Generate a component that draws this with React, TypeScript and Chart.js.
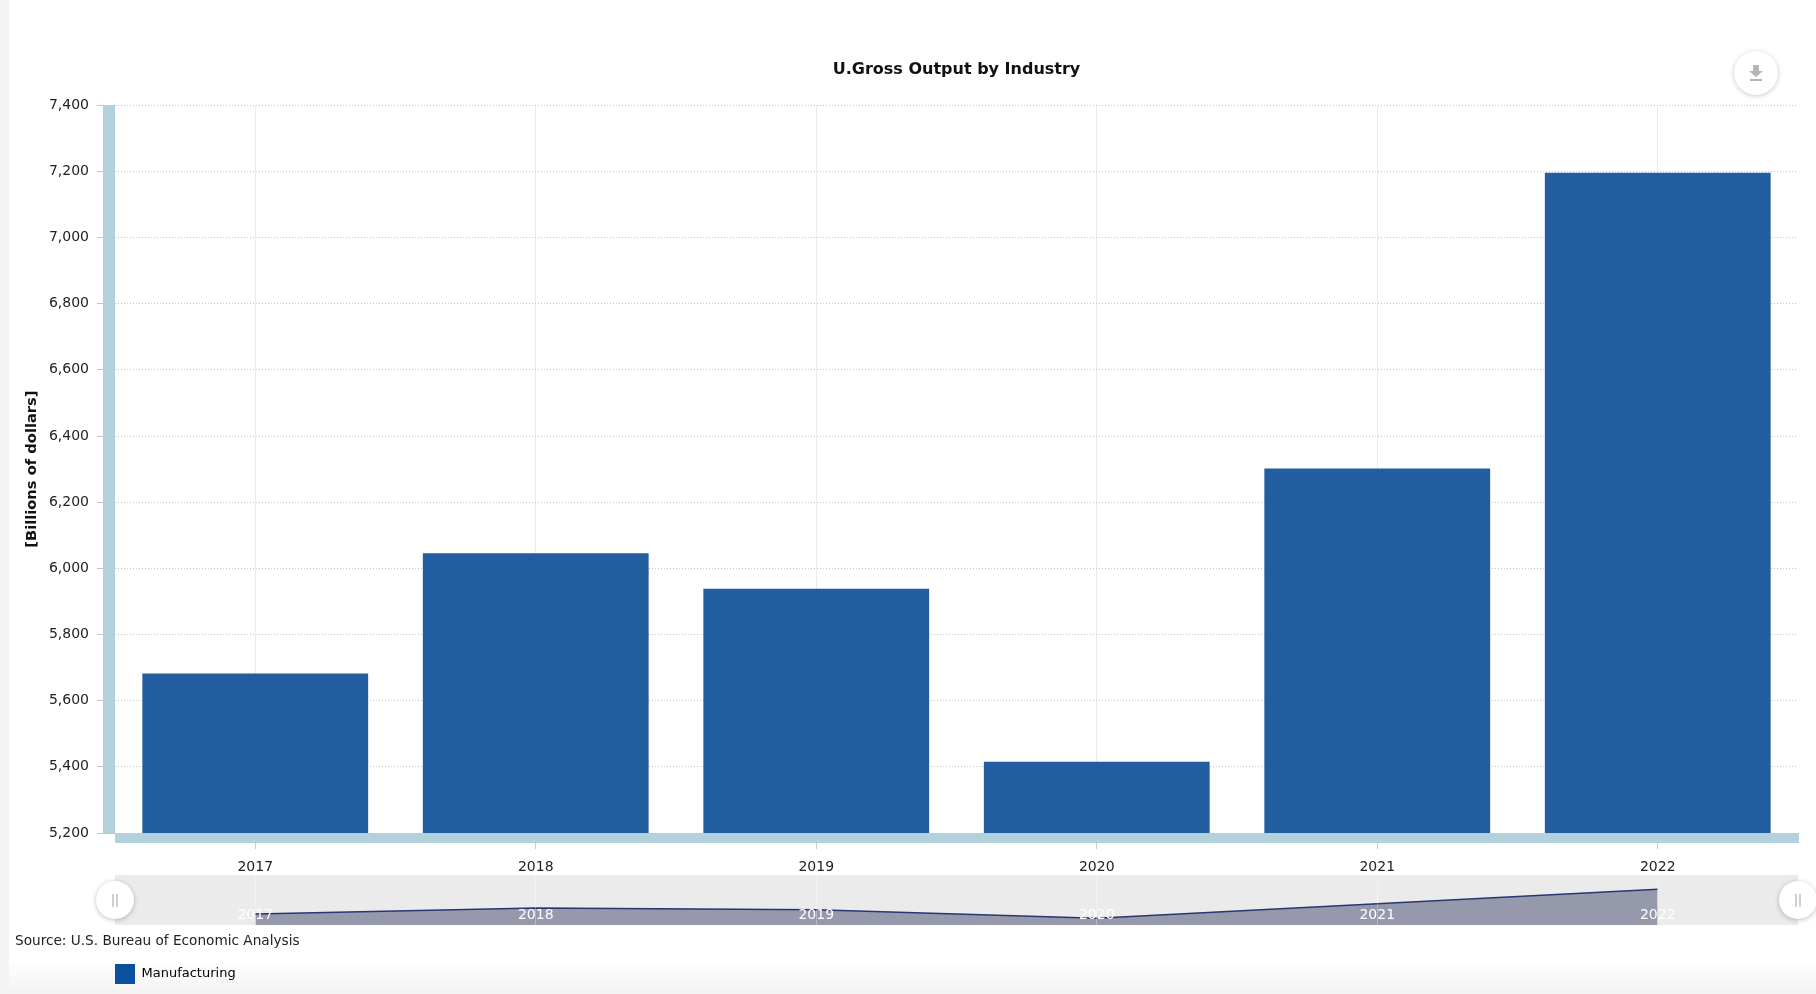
import React, { useEffect, useRef } from "react";
import { Chart, registerables } from "chart.js";

Chart.register(...registerables);

const years = ["2017", "2018", "2019", "2020", "2021", "2022"];
const manufacturing = [5682, 6046, 5938, 5415, 6302, 7196];
const yMin = 5200;
const yMax = 7400;
const yStep = 200;

const FONT = '"DejaVu Sans", Verdana, sans-serif';

const wallPlugin = {
  id: "walls",
  beforeDatasetsDraw(chart: any) {
    const { ctx, chartArea } = chart;
    ctx.save();
    ctx.fillStyle = "#b3d1dd";
    ctx.fillRect(chartArea.left - 12, chartArea.top, 12, chartArea.bottom - chartArea.top);
    ctx.fillRect(chartArea.left, chartArea.bottom, chartArea.right - chartArea.left + 1, 10);
    ctx.restore();
  },
};

function Handle({ x }: { x: number }) {
  return (
    <div
      style={{
        position: "absolute",
        left: x - 19,
        top: 881,
        width: 38,
        height: 38,
        borderRadius: "50%",
        background: "#fff",
        boxShadow: "0 1px 5px rgba(0,0,0,0.25)",
        display: "flex",
        alignItems: "center",
        justifyContent: "center",
        gap: 2,
      }}
    >
      <span style={{ width: 2, height: 13, background: "#d0d0d0" }} />
      <span style={{ width: 2, height: 13, background: "#d0d0d0" }} />
    </div>
  );
}

export default function App() {
  const mainRef = useRef<HTMLCanvasElement>(null);
  const navRef = useRef<HTMLCanvasElement>(null);

  useEffect(() => {
    document.body.style.margin = "0";
    const main = new Chart(mainRef.current!, {
      type: "bar",
      data: {
        labels: years,
        datasets: [
          {
            label: "Manufacturing",
            data: manufacturing,
            backgroundColor: "#225e9f",
            barPercentage: 0.805,
            categoryPercentage: 1,
          },
        ],
      },
      plugins: [wallPlugin],
      options: {
        responsive: false,
        animation: false,
        layout: { padding: { left: 20, right: 18, top: 0, bottom: 0 } },
        plugins: {
          tooltip: { enabled: false },
          title: {
            display: true,
            text: "U.Gross Output by Industry",
            color: "#111",
            fullSize: false,
            font: { family: FONT, size: 16, weight: "bold" },
            padding: { top: 60, bottom: 26 },
          },
          legend: {
            display: true,
            position: "bottom",
            align: "start",
            fullSize: false,
            labels: {
              boxWidth: 20,
              boxHeight: 20,
              padding: 0,
              color: "#222",
              font: { family: FONT, size: 13 },
              generateLabels: () => [
                { text: "Manufacturing", fillStyle: "#0d4f9f", strokeStyle: "#0d4f9f", lineWidth: 0, datasetIndex: 0 },
              ],
            },
          },
        },
        scales: {
          x: {
            offset: true,
            afterFit: (s: any) => {
              s.height = 131;
            },
            border: { display: false },
            grid: {
              offset: false,
              color: "#ececec",
              tickColor: "#cccccc",
              tickLength: 16,
            },
            ticks: {
              color: "#222",
              padding: 10,
              maxRotation: 0,
              font: { family: FONT, size: 14 },
            },
          },
          y: {
            min: yMin,
            max: yMax,
            afterFit: (s: any) => {
              s.width = 95;
            },
            border: { display: false, dash: [1, 2] },
            grid: {
              color: "#c4c4c4",
              tickColor: "#c4c4c4",
              tickLength: 18,
            },
            ticks: {
              stepSize: yStep,
              color: "#222",
              padding: 8,
              font: { family: FONT, size: 14 },
              callback: (v: any) => Number(v).toLocaleString("en-US"),
            },
            title: {
              display: true,
              text: "[Billions of dollars]",
              color: "#111",
              padding: 3,
              font: { family: FONT, size: 14.7, weight: "bold" },
            },
          },
        },
      },
    } as any);

    const nav = new Chart(navRef.current!, {
      type: "line",
      data: {
        labels: years,
        datasets: [
          {
            data: manufacturing,
            borderColor: "#2a3575",
            borderWidth: 1.5,
            backgroundColor: "#9599ab",
            fill: "start",
            pointRadius: 0,
            tension: 0,
          },
        ],
      },
      options: {
        responsive: false,
        animation: false,
        layout: { padding: 0 },
        plugins: { legend: { display: false }, tooltip: { enabled: false }, title: { display: false } },
        scales: {
          x: {
            offset: true,
            afterFit: (s: any) => {
              s.height = 0;
            },
            border: { display: false },
            grid: { offset: false, color: "rgba(255,255,255,0.3)", drawTicks: false, z: 1 },
            ticks: {
              color: "#ffffff",
              mirror: true,
              padding: 1,
              maxRotation: 0,
              z: 2,
              font: { family: FONT, size: 14 },
            },
          },
          y: { display: false, min: 5000, max: 8080 },
        },
      },
    } as any);

    return () => {
      main.destroy();
      nav.destroy();
    };
  }, []);

  return (
    <div
      style={{
        position: "absolute",
        left: 0,
        top: 0,
        width: 1816,
        height: 994,
        overflow: "hidden",
        background: "linear-gradient(to top, #f3f3f3 0, #ffffff 36px)",
      }}
    >
      <div style={{ position: "absolute", left: 0, top: 0, width: 9, height: 994, background: "#f4f4f4" }} />
      <canvas ref={mainRef} width={1816} height={994} style={{ position: "absolute", left: 0, top: 0 }} />
      <canvas
        ref={navRef}
        width={1683}
        height={50}
        style={{ position: "absolute", left: 115, top: 875, background: "#ebebeb" }}
      />
      <Handle x={115} />
      <Handle x={1798} />
      <div
        style={{
          position: "absolute",
          left: 15,
          top: 932,
          fontFamily: FONT,
          fontSize: 13.65,
          lineHeight: "16px",
          color: "#222",
          whiteSpace: "nowrap",
        }}
      >
        Source: U.S. Bureau of Economic Analysis
      </div>
      <div
        style={{
          position: "absolute",
          left: 1734,
          top: 51,
          width: 44,
          height: 44,
          borderRadius: "50%",
          background: "#fff",
          boxShadow: "0 1px 5px rgba(0,0,0,0.22)",
          display: "flex",
          alignItems: "center",
          justifyContent: "center",
        }}
      >
        <svg width="16" height="18" viewBox="0 0 16 18">
          <path d="M5 1h6v6h4l-7 6-7-6h4z" fill="#b5b5b5" />
          <rect x="2" y="15" width="12" height="2" fill="#b5b5b5" />
        </svg>
      </div>
    </div>
  );
}
